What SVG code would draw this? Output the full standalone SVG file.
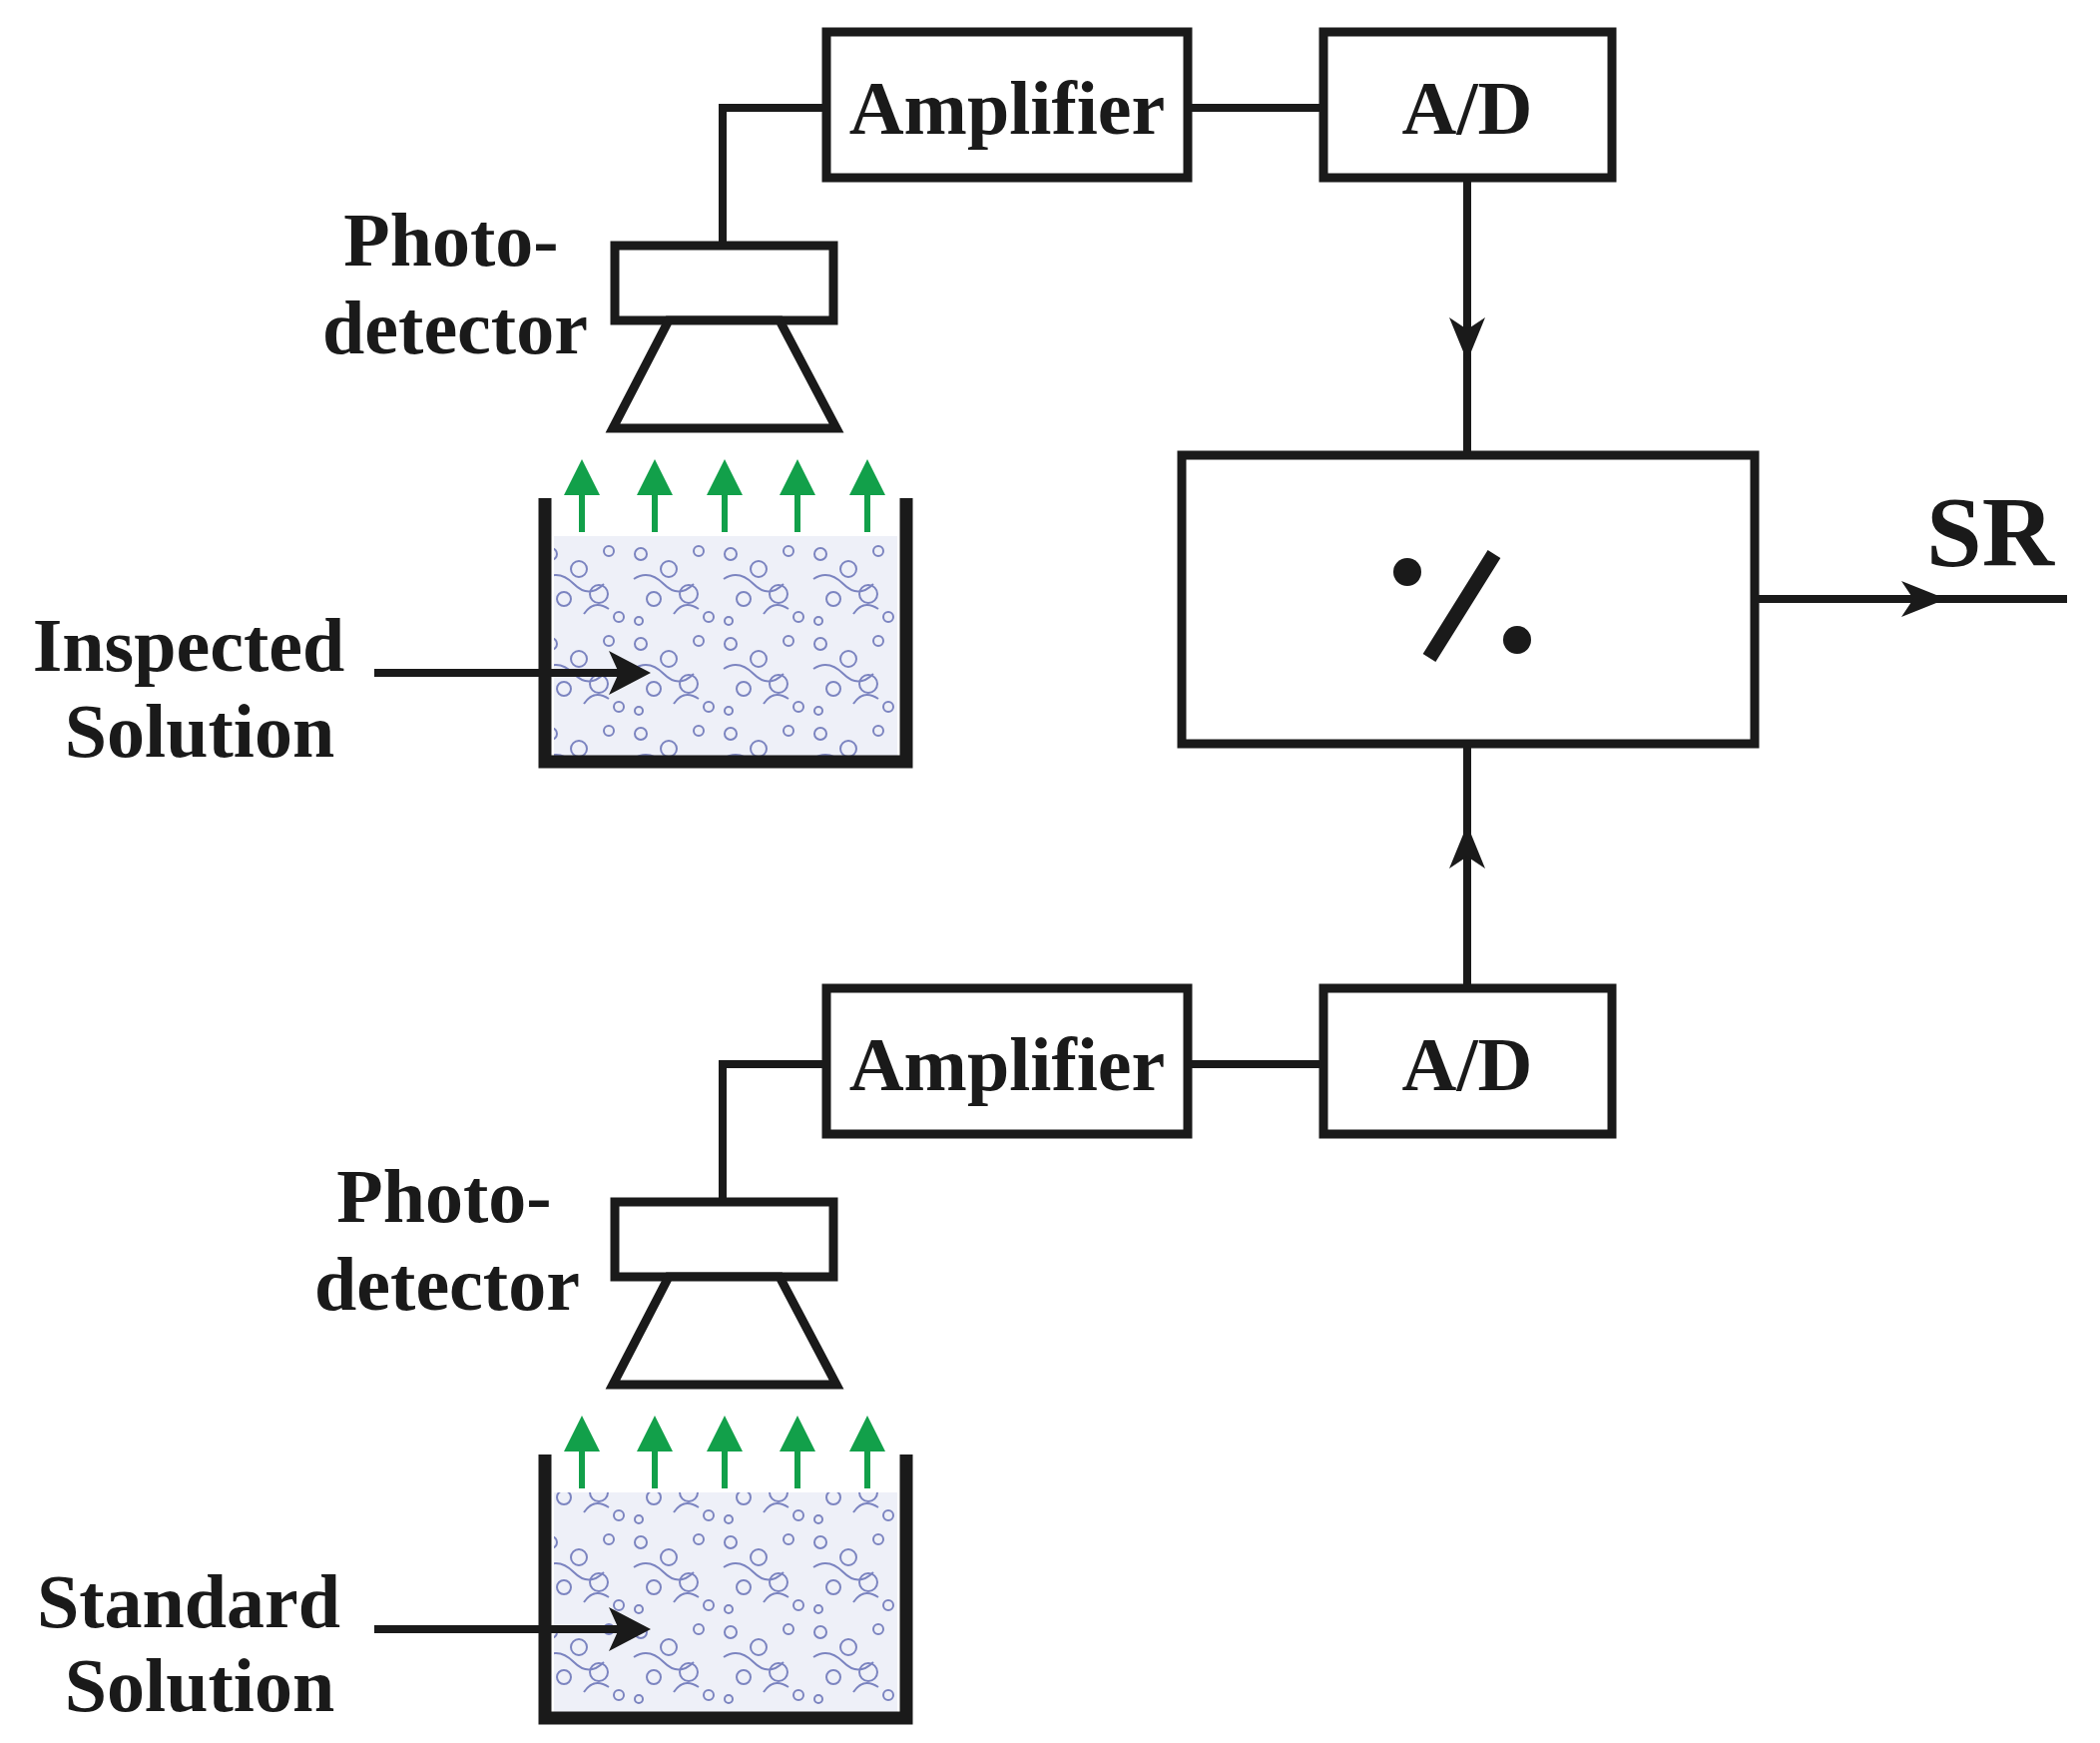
<svg xmlns="http://www.w3.org/2000/svg" width="2104" height="1746" viewBox="0 0 2104 1746">
<style>
.box{fill:#fff;stroke:#1a1a1a;stroke-width:9}
.ln{fill:none;stroke:#1a1a1a;stroke-width:8}
.wall{fill:none;stroke:#1a1a1a;stroke-width:13}
.t{font-family:"Liberation Serif",serif;font-weight:bold;font-size:76px;fill:#1a1a1a;text-anchor:middle}
.sr{font-size:100px}
.g{stroke:#12a04a;stroke-width:6;marker-end:url(#ga)}
</style>
<defs>
<marker id="ga" markerWidth="6" markerHeight="6" refX="3" refY="3" orient="auto" markerUnits="strokeWidth"><path d="M0,0L6,3L0,6z" fill="#12a04a"/></marker>
<pattern id="liq" width="90" height="90" patternUnits="userSpaceOnUse">
<rect width="90" height="90" fill="#eef0f8"/>
<g fill="none" stroke="#4a55a8" stroke-width="2" opacity="0.7">
<circle cx="12" cy="15" r="6"/><circle cx="40" cy="30" r="8"/><circle cx="70" cy="12" r="5"/><circle cx="25" cy="60" r="7"/><circle cx="60" cy="55" r="9"/><circle cx="80" cy="78" r="5"/><circle cx="10" cy="82" r="4"/><path d="M5,40 q15,-10 30,5 t30,0 M45,75 q10,-15 25,-5"/>
</g>
</pattern>
</defs>
<rect width="2104" height="1746" fill="#fff"/>
<g id="amp1"><rect class="box" x="828" y="32" width="362" height="146"/><text class="t" x="1009" y="134">Amplifier</text></g>
<g id="ad1"><rect class="box" x="1326" y="32" width="289" height="146"/><text class="t" x="1470" y="134">A/D</text></g>
<g id="amp2"><rect class="box" x="828" y="990" width="362" height="146"/><text class="t" x="1009" y="1092">Amplifier</text></g>
<g id="ad2"><rect class="box" x="1326" y="990" width="289" height="146"/><text class="t" x="1470" y="1092">A/D</text></g>
<g id="divider"><rect class="box" x="1184" y="456" width="574" height="289" stroke-width="15"/>
<circle cx="1410" cy="573" r="14" fill="#1a1a1a"/><circle cx="1520" cy="641" r="14" fill="#1a1a1a"/>
<line x1="1432" y1="659" x2="1497" y2="555" stroke="#1a1a1a" stroke-width="15"/></g>
<g id="sr"><text class="t sr" x="1994" y="566">SR</text></g>
<g id="pd1"><rect class="box" x="616" y="246" width="219" height="75"/><polygon class="box" points="670,321 781,321 838,429 614,429"/>
<text class="t" x="452" y="266">Photo-</text><text class="t" x="456" y="354">detector</text></g>
<g id="pd2"><rect class="box" x="616" y="1204" width="219" height="75"/><polygon class="box" points="670,1279 781,1279 838,1387 614,1387"/>
<text class="t" x="445" y="1224">Photo-</text><text class="t" x="448" y="1312">detector</text></g>
<g id="beaker1"><rect x="555" y="537" width="344" height="220" fill="url(#liq)"/>
<polyline class="wall" points="546,499 546,763 908,763 908,499"/>
<line class="g" x1="583" y1="533" x2="583" y2="478"/><line class="g" x1="656" y1="533" x2="656" y2="478"/><line class="g" x1="726" y1="533" x2="726" y2="478"/><line class="g" x1="799" y1="533" x2="799" y2="478"/><line class="g" x1="869" y1="533" x2="869" y2="478"/>
<text class="t" x="189" y="672">Inspected</text><text class="t" x="200" y="758">Solution</text></g>
<g id="beaker2"><rect x="555" y="1495" width="344" height="220" fill="url(#liq)"/>
<polyline class="wall" points="546,1457 546,1721 908,1721 908,1457"/>
<line class="g" x1="583" y1="1491" x2="583" y2="1436"/><line class="g" x1="656" y1="1491" x2="656" y2="1436"/><line class="g" x1="726" y1="1491" x2="726" y2="1436"/><line class="g" x1="799" y1="1491" x2="799" y2="1436"/><line class="g" x1="869" y1="1491" x2="869" y2="1436"/>
<text class="t" x="189" y="1630">Standard</text><text class="t" x="200" y="1714">Solution</text></g>
<g id="connectors">
<polyline class="ln" points="828,108 724,108 724,246"/>
<line class="ln" x1="1190" y1="108" x2="1326" y2="108"/>
<polyline class="ln" points="828,1066 724,1066 724,1204"/>
<line class="ln" x1="1190" y1="1066" x2="1326" y2="1066"/>
<line class="ln" x1="1470" y1="178" x2="1470" y2="456"/>
<path d="M1452,318L1470,362L1488,318L1470,330z" fill="#1a1a1a"/>
<line class="ln" x1="1470" y1="991" x2="1470" y2="745"/>
<path d="M1452,870L1470,826L1488,870L1470,858z" fill="#1a1a1a"/>
<line class="ln" x1="1758" y1="600" x2="2071" y2="600"/>
<path d="M1905,582L1950,600L1905,618L1917,600z" fill="#1a1a1a"/>
<line class="ln" x1="375" y1="674" x2="620" y2="674"/>
<path d="M610,652L652,674L610,696L620,674z" fill="#1a1a1a"/>
<line class="ln" x1="375" y1="1632" x2="620" y2="1632"/>
<path d="M610,1610L652,1632L610,1654L620,1632z" fill="#1a1a1a"/>
</g>
</svg>
